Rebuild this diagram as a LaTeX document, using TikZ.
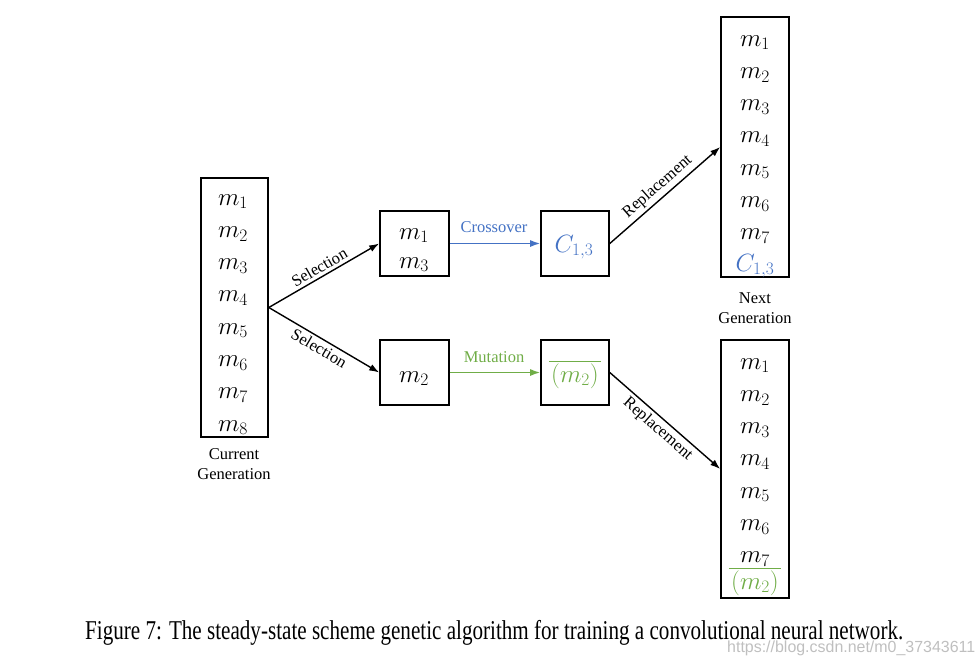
\RequirePackage{fix-cm}
\documentclass[tikz,border=0pt]{standalone}
\usepackage{fontspec}
\setmainfont{Liberation Serif}
\setsansfont{Liberation Sans}
\usepackage{graphicx}
\usetikzlibrary{arrows.meta}
\definecolor{xblue}{RGB}{68,114,196}
\definecolor{xgreen}{RGB}{112,173,71}
\begin{document}
\begin{tikzpicture}[x=1pt,y=-1pt,
  box/.style={draw,line width=1.6pt,inner sep=0pt},
  item/.style={anchor=base,inner sep=0pt,font=\fontsize{25}{28}\selectfont},
  lbl/.style={font=\fontsize{16.5}{19}\selectfont,inner sep=3pt},
  arr/.style={line width=1.4pt,-{Latex[length=10pt,width=7pt]}},
  bar/.style={xgreen,line width=1.1pt},
  gentext/.style={font=\fontsize{16.5}{20}\selectfont,align=center,inner sep=0pt}]
\useasboundingbox (0,0) rectangle (979,664);
% boxes
\node[box,minimum width=67pt,minimum height=259pt] (cur) at (234.5,307.5) {};
\node[box,minimum width=69pt,minimum height=65pt] (sa) at (414.5,243.5) {};
\node[box,minimum width=69pt,minimum height=65pt] (sb) at (414.5,372.5) {};
\node[box,minimum width=68pt,minimum height=65pt] (cx) at (575,243.5) {};
\node[box,minimum width=68pt,minimum height=65pt] (mu) at (575,372.5) {};
\node[box,minimum width=68pt,minimum height=260pt] (nt) at (755,147) {};
\node[box,minimum width=68pt,minimum height=258pt] (nb) at (755,469) {};
% current generation items
\foreach \i in {1,...,8}{
  \node[item] (c\i) at (233,{205+32.3*(\i-1)}) {$m_{\i}$};
}
% next generation (top)
\foreach \i in {1,...,7}{
  \node[item] (t\i) at (755,{46+32.3*(\i-1)}) {$m_{\i}$};
}
\node[item,text=xblue] (t8) at (755,271) {$C_{1,3}$};
% next generation (bottom)
\foreach \i in {1,...,7}{
  \node[item] (b\i) at (755,{369+32.3*(\i-1)}) {$m_{\i}$};
}
\node[item,text=xgreen] (b8) at (755,589) {$(m_2)$};
\draw[bar] ([xshift=-2pt,yshift=2pt]b8.north west) -- ([xshift=2pt,yshift=2pt]b8.north east);
% selected / offspring
\node[item] (sa1) at (414,239) {$m_1$};
\node[item] (sa3) at (414,268) {$m_3$};
\node[item] (sb2) at (414,382) {$m_2$};
\node[item,text=xblue] (cx1) at (574,252) {$C_{1,3}$};
\node[item,text=xgreen] (mu1) at (575,382) {$(m_2)$};
\draw[bar] ([xshift=-2pt,yshift=2pt]mu1.north west) -- ([xshift=2pt,yshift=2pt]mu1.north east);
% captions of boxes
\node[gentext] (curlab) at (234,464) {Current\\Generation};
\node[gentext] (nextlab) at (755,308.5) {Next\\Generation};
% arrows
\draw[arr] (cur.east) -- node[lbl,sloped,above] {Selection} (sa.west);
\draw[arr] (cur.east) -- node[lbl,sloped,below] {Selection} (sb.west);
\draw[arr,xblue] (sa.east) -- (cx.west);
\draw[arr,xgreen] (sb.east) -- (mu.west);
\node[lbl,text=xblue] (crl) at (494,227) {Crossover};
\node[lbl,text=xgreen] (mul) at (494,357) {Mutation};
\draw[arr] (cx.east) -- node[lbl,sloped,above] {Replacement} (nt.west);
\draw[arr] (mu.east) -- node[lbl,sloped,below] {Replacement} (nb.west);
% figure caption
\node[inner sep=0pt,anchor=west] (figcap) at (85,632.5) {\resizebox*{818pt}{25pt}{Figure 7: The steady-state scheme genetic algorithm for training a convolutional neural network.}};
\node[inner sep=0pt,anchor=west,text=black!25] (wm) at (727,648) {\resizebox*{248pt}{15pt}{\sffamily https://blog.csdn.net/m0\_37343611}};
\end{tikzpicture}
\end{document}
